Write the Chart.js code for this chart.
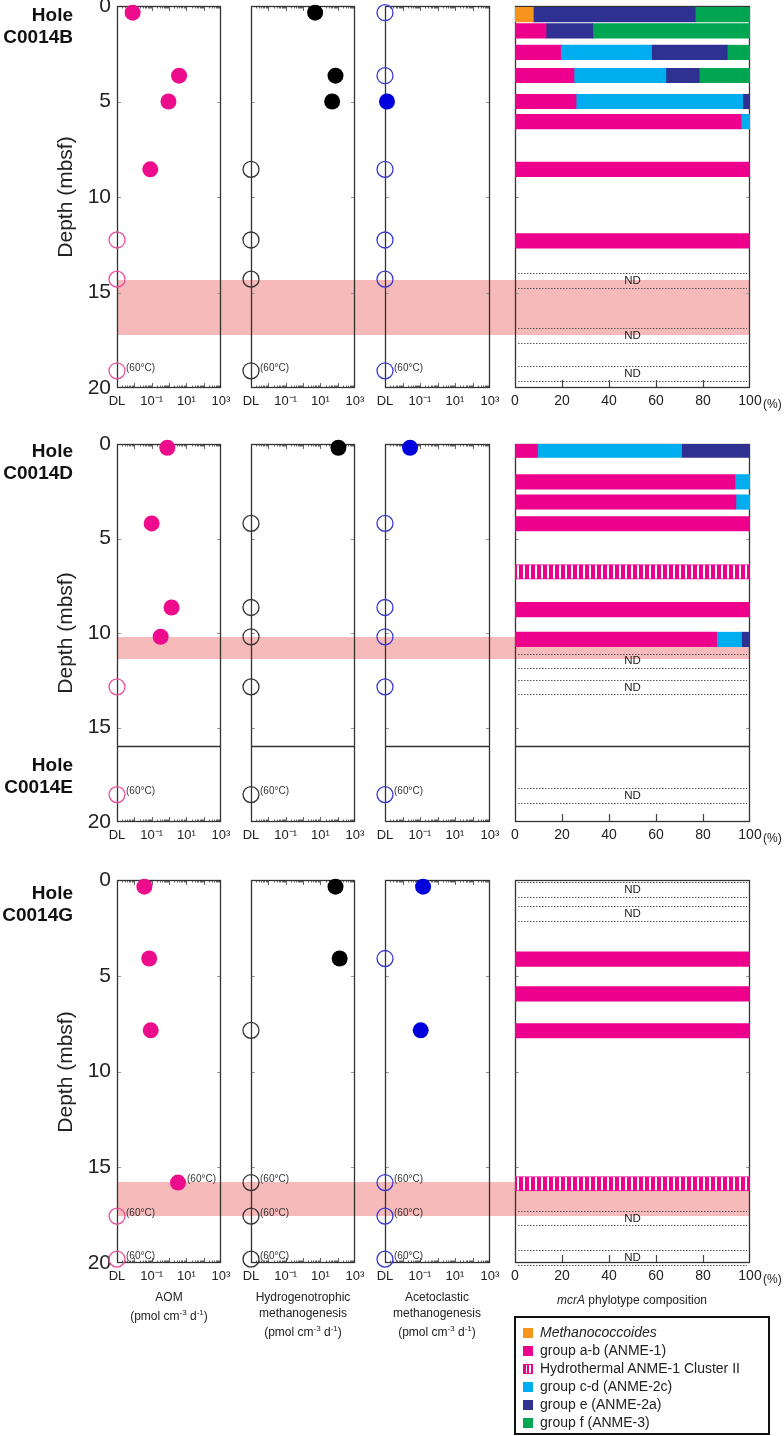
<!DOCTYPE html>
<html>
<head>
<meta charset="utf-8">
<script src="https://cdn.jsdelivr.net/npm/chart.js@4.4.1/dist/chart.umd.min.js"></script>
<style>
  body { margin: 0; background: #fff; width: 784px; height: 1436px; position: relative; overflow: hidden;
         font-family: "Liberation Sans", Arial, sans-serif; color: #222; }
  canvas { position: absolute; }
  .t { position: absolute; white-space: nowrap; }
  .hole { font-weight: bold; font-size: 19px; line-height: 22px; text-align: right; width: 90px; left: -17px; color: #111; }
  .depth { font-size: 21px; transform: translate(-50%, -50%) rotate(-90deg); left: 65px; }
  .ttl { font-size: 12px; line-height: 16px; text-align: center; transform: translateX(-50%); }
  .pct { font-size: 12px; }
  #legend { position: absolute; left: 514px; top: 1316px; width: 256px; height: 119px; border: 2px solid #111; box-sizing: border-box; padding: 5px 0 0 7px; }
  #legend div { font-size: 14px; line-height: 18px; height: 18px; }
  #legend span.sw { display: inline-block; width: 10px; height: 10px; margin-right: 7px; vertical-align: -1px; }
</style>
</head>
<body>
<script>
// axis ticks
const depthTicks = [0, 5, 10, 15, 20]
const rateTicks = [1e-3, 1e-1, 1e1, 1e3]
const rateTickLabels = ['DL', '10⁻¹', '10¹', '10³']
const pctTicks = [0, 20, 40, 60, 80, 100]
const DL = 1e-3

const phylotypes = ['Methanococcoides', 'group a-b (ANME-1)', 'Hydrothermal ANME-1 Cluster II',
  'group c-d (ANME-2c)', 'group e (ANME-2a)', 'group f (ANME-3)']
const phyloColors = ['#f7941d', '#ec008c', '#ec008c', '#00aeef', '#2e3192', '#00a651']

// Hole C0014B  (rate 0 = below detection limit)
const depthB = [0.35, 3.65, 5.0, 8.55, 12.25, 14.3, 19.1]
const aomB = [0.008, 3.8, 0.93, 0.083, 0, 0, 0]
const hydroB = [5, 75, 48, 0, 0, 0, 0]
const acetoB = [0, 0, 0.0013, 0, 0, 0, 0]
const hotB = [19.1]
const bandB = [14.35, 17.2]
const barDepthB = [0.45, 1.3, 2.43, 3.64, 5.0, 6.05, 8.55, 12.3]
const methB = [7.8, 0, 0, 0, 0, 0, 0, 0]
const abB = [0, 13.2, 19.4, 25.1, 26, 96.2, 100, 100]
const hydB = [0, 0, 0, 0, 0, 0, 0, 0]
const cdB = [0, 0, 38.7, 39.1, 70.9, 3.8, 0, 0]
const eB = [68.9, 19.9, 32.2, 14.2, 3.1, 0, 0, 0]
const fB = [23.3, 66.9, 9.7, 21.6, 0, 0, 0, 0]
const ndB = [14.37, 17.25, 19.23]

// Holes C0014D / C0014E
const depthD = [0.2, 4.2, 8.65, 10.2, 12.85, 18.55]
const aomD = [0.8, 0.1, 1.4, 0.33, 0, 0]
const hydroD = [110, 0, 0, 0, 0, 0]
const acetoD = [0.027, 0, 0, 0, 0, 0]
const hotD = [18.55]
const bandD = [10.23, 11.4]
const holeBreakD = 16
const barDepthD = [0.33, 2.0, 3.07, 4.22, 6.77, 8.76, 10.34]
const methD = [0, 0, 0, 0, 0, 0, 0]
const abD = [9.6, 93.6, 94, 100, 0, 100, 85.8]
const hydD = [0, 0, 0, 0, 100, 0, 0]
const cdD = [61.3, 6.4, 6, 0, 0, 0, 10.6]
const eD = [29.1, 0, 0, 0, 0, 0, 3.6]
const fD = [0, 0, 0, 0, 0, 0, 0]
const ndD = [11.47, 12.85, 18.6]

// Hole C0014G
const depthG = [0.35, 4.1, 7.85, 15.8, 17.55, 19.8]
const aomG = [0.038, 0.072, 0.088, 3.3, 0, 0]
const hydroG = [75, 130, 0, 0, 0, 0]
const acetoG = [0.15, 0, 0.11, 0, 0, 0]
const hotG = [15.8, 17.55, 19.8]
const bandG = [15.75, 17.53]
const barDepthG = [4.13, 5.95, 7.87, 15.86]
const methG = [0, 0, 0, 0]
const abG = [100, 100, 100, 0]
const hydG = [0, 0, 0, 100]
const cdG = [0, 0, 0, 0]
const eG = [0, 0, 0, 0]
const fG = [0, 0, 0, 0]
const ndG = [0.5, 1.75, 17.65, 19.7]

// layout
const cols = [{ l: 117, r: 221 }, { l: 251, r: 355 }, { l: 385, r: 490 }, { l: 515, r: 750 }]
const rows = [{ t: 6, b: 388 }, { t: 444, b: 822 }, { t: 880, b: 1263 }]
const PAD_T = 24, AX_H = 24
const FONT = '"Liberation Sans", Arial, sans-serif'
const BAND = '#f7baba'

const hatchCanvas = document.createElement('canvas')
hatchCanvas.width = 6; hatchCanvas.height = 6
const hc = hatchCanvas.getContext('2d')
hc.fillStyle = '#fff'; hc.fillRect(0, 0, 6, 6)
hc.fillStyle = '#ec008c'; hc.fillRect(0, 0, 4, 6)
const hatchFill = hc.createPattern(hatchCanvas, 'repeat')

function line(ctx, x0, y0, x1, y1) {
  ctx.beginPath(); ctx.moveTo(x0, y0); ctx.lineTo(x1, y1); ctx.stroke()
}

const panelDeco = {
  id: 'panelDeco',
  beforeDatasetsDraw(chart, args, o) {
    if (!o.kind) return
    const { ctx, chartArea: a } = chart
    const x = chart.scales.x, y = chart.scales.y
    ctx.save()
    if (o.band) {
      const y0 = Math.round(y.getPixelForValue(o.band[0])), y1 = Math.round(y.getPixelForValue(o.band[1]))
      const left = o.bandFromEdge ? 0 : a.left
      const right = o.kind === 'bar' ? a.right : chart.width
      ctx.fillStyle = BAND
      ctx.fillRect(left, y0, right - left, y1 - y0)
    }
    if (o.nd) {
      ctx.strokeStyle = '#555'; ctx.lineWidth = 1; ctx.setLineDash([1.5, 1.5])
      o.nd.forEach(d => {
        const p0 = y.getPixelForValue(d - 0.38), p1 = y.getPixelForValue(d + 0.38)
        line(ctx, a.left + 3, Math.round(p0) + 0.5, a.right - 3, Math.round(p0) + 0.5)
        line(ctx, a.left + 3, Math.round(p1) + 0.5, a.right - 3, Math.round(p1) + 0.5)
      })
      ctx.setLineDash([])
      ctx.fillStyle = '#222'; ctx.font = '11.5px ' + FONT
      ctx.textAlign = 'center'; ctx.textBaseline = 'middle'
      o.nd.forEach(d => ctx.fillText('ND', (a.left + a.right) / 2, y.getPixelForValue(d) + 0.5))
    }
    ctx.strokeStyle = '#999'; ctx.lineWidth = 1
    ;[5, 10, 15].forEach(d => {
      const py = Math.round(y.getPixelForValue(d)) + 0.5
      line(ctx, a.left, py, a.left + 4, py)
      line(ctx, a.right - 4, py, a.right, py)
    })
    if (o.kind === 'bar') {
      ctx.strokeStyle = '#444'; ctx.lineWidth = 1.2
      pctTicks.slice(1, -1).forEach(v => {
        const px = Math.round(x.getPixelForValue(v)) + 0.5
        line(ctx, px, a.bottom, px, a.bottom - 8)
      })
    } else {
      ctx.strokeStyle = '#666'; ctx.lineWidth = 1
      for (let e = -3; e < 3; e++) {
        for (let m = 1; m < 10; m++) {
          const px = Math.round(x.getPixelForValue(m * Math.pow(10, e))) + 0.5
          const len = m === 1 ? 5 : 2.5
          line(ctx, px, a.top, px, a.top + len)
          line(ctx, px, a.bottom, px, a.bottom - len)
        }
      }
    }
    if (o.holeBreak != null) {
      const py = Math.round(y.getPixelForValue(o.holeBreak)) + 0.5
      ctx.strokeStyle = '#333'; ctx.lineWidth = 1.3
      line(ctx, a.left, py, a.right, py)
    }
    ctx.strokeStyle = '#333'; ctx.lineWidth = 1.3
    ctx.strokeRect(a.left + 0.5, a.top + 0.5, a.right - a.left - 1, a.bottom - a.top - 1)
    ctx.restore()
  },
  afterDatasetsDraw(chart, args, o) {
    if (!o.hot) return
    const { ctx } = chart
    const x = chart.scales.x, y = chart.scales.y
    ctx.save()
    ctx.fillStyle = '#333'; ctx.font = '10px ' + FONT
    ctx.textAlign = 'left'; ctx.textBaseline = 'middle'
    o.hot.forEach(d => {
      const i = o.depths.indexOf(d)
      const r = o.rates[i] > 0 ? o.rates[i] : DL
      ctx.fillText('(60°C)', x.getPixelForValue(r) + 9, y.getPixelForValue(d) - 3)
    })
    ctx.restore()
  }
}
Chart.register(panelDeco)

function addCanvas(left, top, w, h) {
  const c = document.createElement('canvas')
  c.width = w; c.height = h
  c.style.left = left + 'px'; c.style.top = top + 'px'
  c.style.width = w + 'px'; c.style.height = h + 'px'
  document.body.appendChild(c)
  return c
}

function makeScatter(ci, ri, depths, rates, fill, ring, deco) {
  const col = cols[ci], row = rows[ri]
  const yw = ci === 0 ? 52 : 0
  const padL = ci === 0 ? 64 : 20
  const left = col.l - padL, right = cols[ci + 1].l
  const top = row.t - PAD_T
  const w = right - left, h = row.b + AX_H + 4 - top
  const cv = addCanvas(left, top, w, h)
  const found = [], below = []
  depths.forEach((d, i) => rates[i] > 0 ? found.push({ x: rates[i], y: d }) : below.push({ x: DL, y: d }))
  new Chart(cv, {
    type: 'scatter',
    data: {
      datasets: [
        { data: found, backgroundColor: fill, borderColor: fill, pointRadius: 8, borderWidth: 0, clip: false },
        { data: below, backgroundColor: 'rgba(0,0,0,0)', borderColor: ring, pointRadius: 8, borderWidth: 1.3, clip: false }
      ]
    },
    options: {
      responsive: false, animation: false, devicePixelRatio: 1, events: [],
      layout: { padding: { left: padL - yw, right: right - col.r, top: PAD_T, bottom: 4 } },
      plugins: {
        legend: { display: false }, tooltip: { enabled: false },
        panelDeco: Object.assign({ kind: 'scatter', depths, rates, bandFromEdge: ci > 0 }, deco)
      },
      scales: {
        x: {
          type: 'logarithmic', min: 1e-3, max: 1e3,
          afterBuildTicks: s => { s.ticks = rateTicks.map(v => ({ value: v })) },
          afterFit: s => { s.height = AX_H },
          ticks: { callback: (v, i) => rateTickLabels[i], autoSkip: false, maxRotation: 0, padding: 6,
                   color: '#222', font: { size: 13, family: FONT } },
          grid: { display: false, drawTicks: false }, border: { display: false }
        },
        y: {
          type: 'linear', reverse: true, min: 0, max: 20, display: ci === 0,
          afterBuildTicks: s => { s.ticks = depthTicks.map(v => ({ value: v })) },
          afterFit: s => { s.width = yw },
          ticks: { padding: 6, color: '#222', font: { size: 21, family: FONT } },
          grid: { display: false, drawTicks: false }, border: { display: false }
        }
      }
    }
  })
}

function makeBars(ri, depths, parts, deco) {
  const col = cols[3], row = rows[ri]
  const padL = 20, padR = 20
  const left = col.l - padL, top = row.t - PAD_T
  const w = col.r + padR - left, h = row.b + AX_H + 4 - top
  const cv = addCanvas(left, top, w, h)
  const cum = depths.map(() => 0)
  const datasets = phylotypes.map((name, k) => {
    const data = []
    depths.forEach((d, i) => {
      const v = parts[k][i]
      if (v > 0) { data.push({ y: d, x: [cum[i], cum[i] + v] }); cum[i] += v }
    })
    return {
      label: name, data, grouped: false, barThickness: 14.5,
      backgroundColor: k === 2 ? hatchFill : phyloColors[k],
      borderColor: phyloColors[k], borderWidth: k === 2 ? 1 : 0, borderSkipped: false
    }
  })
  new Chart(cv, {
    type: 'bar',
    data: { datasets },
    options: {
      indexAxis: 'y', responsive: false, animation: false, devicePixelRatio: 1, events: [],
      layout: { padding: { left: padL, right: padR, top: PAD_T, bottom: 4 } },
      plugins: {
        legend: { display: false }, tooltip: { enabled: false },
        panelDeco: Object.assign({ kind: 'bar' }, deco)
      },
      scales: {
        x: {
          type: 'linear', min: 0, max: 100,
          afterBuildTicks: s => { s.ticks = pctTicks.map(v => ({ value: v })) },
          afterFit: s => { s.height = AX_H },
          ticks: { autoSkip: false, maxRotation: 0, padding: 5, color: '#222', font: { size: 14, family: FONT } },
          grid: { display: false, drawTicks: false }, border: { display: false }
        },
        y: { type: 'linear', reverse: true, min: 0, max: 20, offset: false, display: false }
      }
    }
  })
}

const holes = [
  { depths: depthB, aom: aomB, hydro: hydroB, aceto: acetoB, hot: hotB, band: bandB,
    bars: barDepthB, parts: [methB, abB, hydB, cdB, eB, fB], nd: ndB },
  { depths: depthD, aom: aomD, hydro: hydroD, aceto: acetoD, hot: hotD, band: bandD, holeBreak: holeBreakD,
    bars: barDepthD, parts: [methD, abD, hydD, cdD, eD, fD], nd: ndD },
  { depths: depthG, aom: aomG, hydro: hydroG, aceto: acetoG, hot: hotG, band: bandG,
    bars: barDepthG, parts: [methG, abG, hydG, cdG, eG, fG], nd: ndG }
]

holes.forEach((h, ri) => {
  const deco = { band: h.band, hot: h.hot, holeBreak: h.holeBreak }
  makeScatter(0, ri, h.depths, h.aom, '#ec0c8c', '#ec4f9c', deco)
  makeScatter(1, ri, h.depths, h.hydro, '#000', '#333', deco)
  makeScatter(2, ri, h.depths, h.aceto, '#0000dc', '#3a3ad0', deco)
  makeBars(ri, h.bars, h.parts, { band: h.band, nd: h.nd, holeBreak: h.holeBreak })
})

// text labels
function text(cls, x, y, html) {
  const d = document.createElement('div')
  d.className = 't ' + cls
  d.style.left = x == null ? '' : x + 'px'
  d.style.top = y + 'px'
  d.innerHTML = html
  document.body.appendChild(d)
  return d
}
text('hole', null, 4, 'Hole<br>C0014B')
text('hole', null, 440, 'Hole<br>C0014D')
text('hole', null, 754, 'Hole<br>C0014E')
text('hole', null, 882, 'Hole<br>C0014G')
text('depth', 65, 197, 'Depth (mbsf)')
text('depth', 65, 633, 'Depth (mbsf)')
text('depth', 65, 1072, 'Depth (mbsf)')
rows.forEach(r => text('pct', 763, r.b + 9, '(%)'))
const unit = '(pmol cm<sup style="font-size:8px">-3</sup> d<sup style="font-size:8px">-1</sup>)'
text('ttl', 169, 1289, 'AOM<br>' + unit)
text('ttl', 303, 1289, 'Hydrogenotrophic<br>methanogenesis<br>' + unit)
text('ttl', 437, 1289, 'Acetoclastic<br>methanogenesis<br>' + unit)
text('ttl', 632, 1292, '<i>mcrA</i> phylotype composition')

const legend = document.createElement('div')
legend.id = 'legend'
phylotypes.forEach((name, k) => {
  const item = document.createElement('div')
  const sw = k === 2
    ? 'background: repeating-linear-gradient(90deg, #ec008c 0 2px, #fff 2px 3.5px); border: 1px solid #ec008c; box-sizing: border-box;'
    : 'background:' + phyloColors[k]
  item.innerHTML = '<span class="sw" style="' + sw + '"></span>' + (k === 0 ? '<i>' + name + '</i>' : name)
  legend.appendChild(item)
})
document.body.appendChild(legend)
</script>
</body>
</html>
